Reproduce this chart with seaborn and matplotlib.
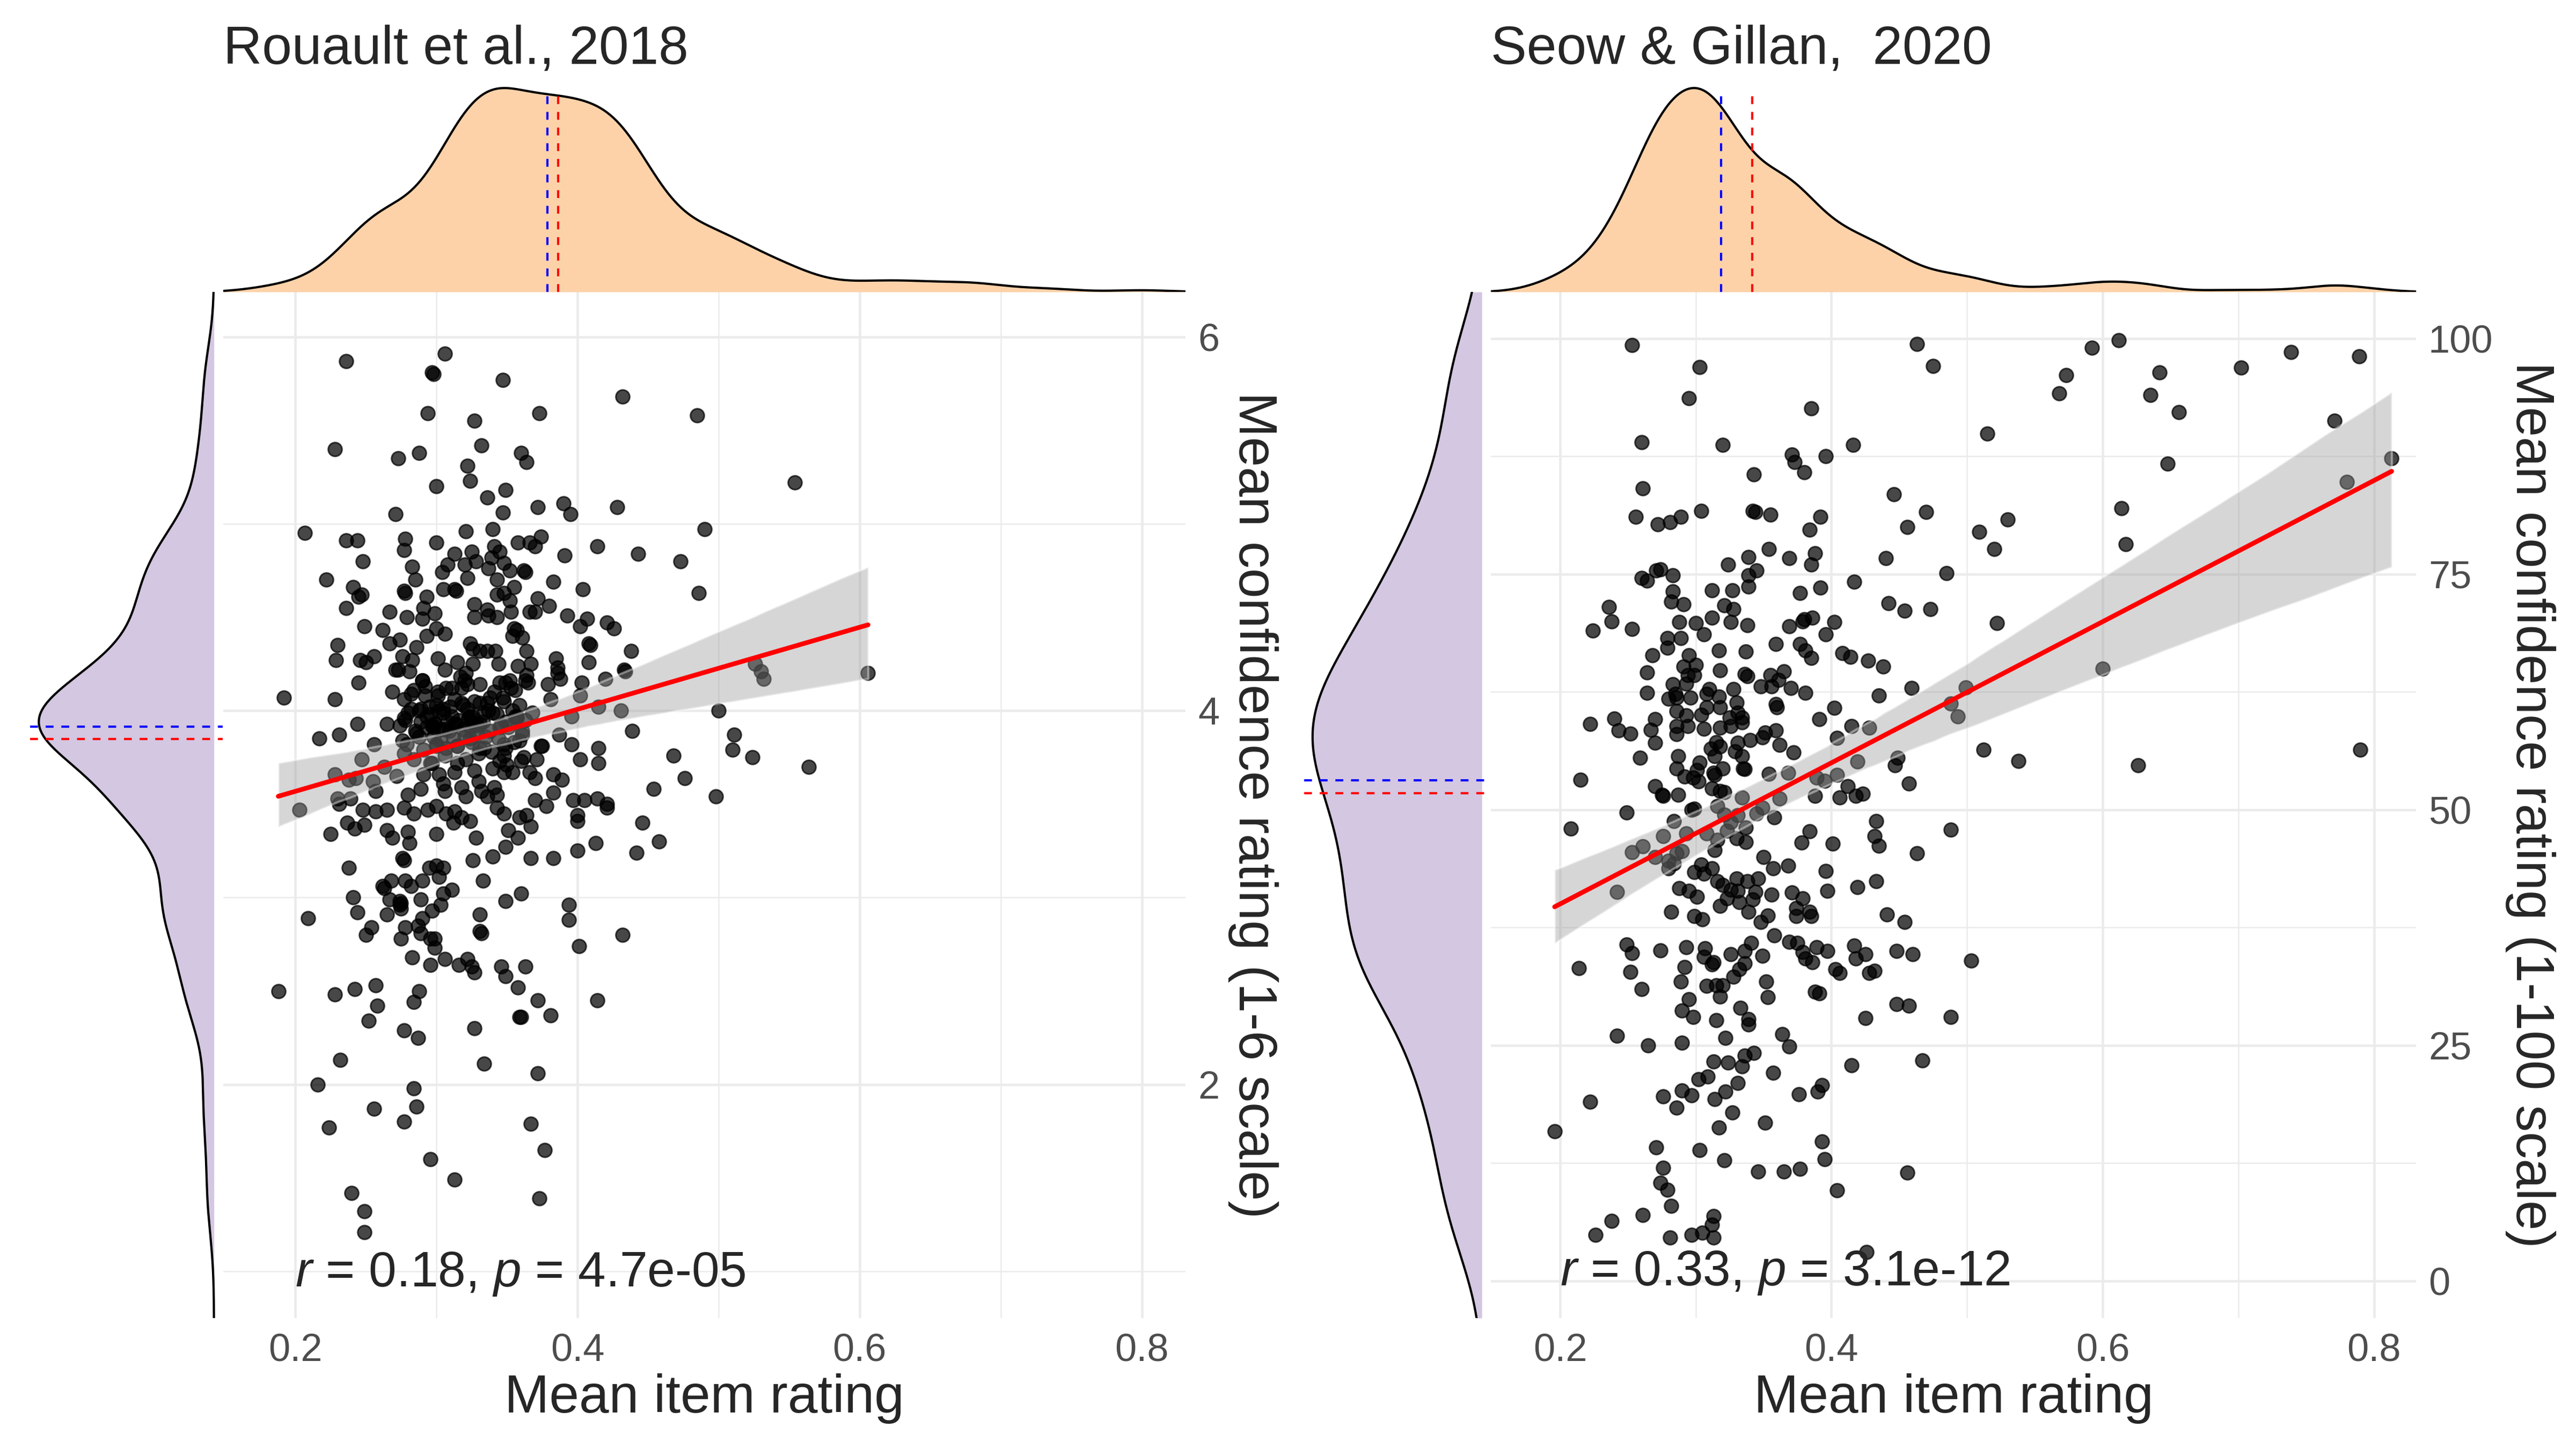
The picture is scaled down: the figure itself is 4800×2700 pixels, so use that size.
import numpy as np
import seaborn as sns
import matplotlib.pyplot as plt

# mean item rating vs mean confidence, one pair per participant
rouault_points = [
    (0.236,5.87),(0.306,5.91),(0.297,5.81),(0.298,5.80),(0.347,5.77),(0.432,5.68),(0.294,5.59),(0.373,5.59),(0.485,5.58),(0.327,5.55),
    (0.228,5.40),(0.273,5.35),(0.288,5.38),(0.332,5.42),(0.360,5.38),(0.364,5.33),(0.322,5.31),(0.324,5.23),(0.300,5.20),(0.349,5.18),
    (0.336,5.14),(0.554,5.22),(0.372,5.09),(0.390,5.11),(0.395,5.05),(0.347,5.06),(0.271,5.05),(0.428,5.09),(0.207,4.95),(0.490,4.97),
    (0.321,4.96),(0.340,4.97),(0.236,4.91),(0.244,4.91),(0.278,4.92),(0.277,4.86),(0.300,4.90),(0.248,4.80),(0.358,4.90),(0.366,4.90),
    (0.370,4.88),(0.374,4.93),(0.341,4.88),(0.345,4.85),(0.391,4.83),(0.414,4.88),(0.443,4.84),(0.473,4.80),(0.313,4.84),(0.325,4.85),
    (0.328,4.80),(0.320,4.78),(0.308,4.78),(0.304,4.74),(0.337,4.76),(0.339,4.82),(0.348,4.79),(0.352,4.75),(0.362,4.75),(0.363,4.74),
    (0.283,4.77),(0.222,4.70),(0.322,4.71),(0.285,4.70),(0.343,4.70),(0.355,4.66),(0.383,4.69),(0.404,4.65),(0.486,4.63),(0.241,4.66),
    (0.247,4.62),(0.245,4.61),(0.277,4.64),(0.278,4.63),(0.305,4.65),(0.313,4.65),(0.314,4.64),(0.343,4.62),(0.348,4.63),(0.352,4.59),
    (0.372,4.60),(0.293,4.61),(0.236,4.55),(0.267,4.53),(0.279,4.50),(0.290,4.49),(0.291,4.55),(0.299,4.52),(0.327,4.57),(0.327,4.50),
    (0.336,4.54),(0.337,4.51),(0.343,4.50),(0.353,4.53),(0.366,4.53),(0.370,4.53),(0.380,4.56),(0.393,4.51),(0.407,4.49),(0.421,4.47),
    (0.426,4.44),(0.402,4.45),(0.249,4.45),(0.262,4.43),(0.274,4.38),(0.267,4.36),(0.293,4.40),(0.300,4.44),(0.306,4.41),(0.355,4.44),
    (0.357,4.43),(0.354,4.40),(0.361,4.39),(0.408,4.36),(0.409,4.35),(0.438,4.32),(0.230,4.35),(0.229,4.27),(0.286,4.34),(0.324,4.36),
    (0.326,4.33),(0.331,4.32),(0.336,4.32),(0.342,4.32),(0.364,4.32),(0.246,4.27),(0.250,4.26),(0.256,4.29),(0.276,4.29),(0.283,4.27),
    (0.301,4.28),(0.315,4.26),(0.326,4.25),(0.306,4.22),(0.271,4.22),(0.273,4.22),(0.281,4.21),(0.344,4.25),(0.358,4.24),(0.367,4.25),
    (0.385,4.28),(0.386,4.23),(0.386,4.20),(0.388,4.17),(0.408,4.26),(0.433,4.22),(0.434,4.21),(0.420,4.17),(0.321,4.20),(0.320,4.16),
    (0.364,4.19),(0.363,4.16),(0.365,4.15),(0.345,4.15),(0.349,4.15),(0.352,4.16),(0.379,4.14),(0.403,4.15),(0.245,4.15),(0.290,4.16),
    (0.292,4.13),(0.311,4.12),(0.318,4.12),(0.322,4.14),(0.356,4.11),(0.526,4.25),(0.530,4.21),(0.532,4.17),(0.606,4.20),(0.192,4.07),
    (0.228,4.06),(0.269,4.10),(0.277,4.06),(0.284,4.11),(0.292,4.08),(0.301,4.10),(0.300,4.03),(0.305,4.01),(0.319,4.03),(0.338,4.07),
    (0.331,4.04),(0.348,4.05),(0.402,4.08),(0.381,4.06),(0.415,4.02),(0.431,4.00),(0.500,4.00),(0.282,4.01),(0.289,4.01),(0.324,3.97),
    (0.334,3.99),(0.340,3.99),(0.356,3.97),(0.368,3.99),(0.396,3.97),(0.244,3.93),(0.265,3.93),(0.274,3.92),(0.277,3.96),(0.293,3.97),
    (0.297,3.92),(0.298,3.91),(0.299,3.93),(0.313,3.93),(0.307,3.90),(0.325,3.94),(0.331,3.93),(0.345,3.91),(0.349,3.94),(0.357,3.96),
    (0.361,3.89),(0.285,3.89),(0.288,3.86),(0.439,3.89),(0.511,3.87),(0.217,3.85),(0.231,3.87),(0.256,3.82),(0.279,3.82),(0.300,3.82),
    (0.307,3.80),(0.315,3.81),(0.324,3.85),(0.331,3.80),(0.348,3.82),(0.359,3.84),(0.375,3.81),(0.387,3.87),(0.396,3.82),(0.415,3.80),
    (0.510,3.79),(0.524,3.75),(0.468,3.76),(0.564,3.70),(0.247,3.74),(0.277,3.77),(0.291,3.66),(0.296,3.72),(0.315,3.72),(0.313,3.67),
    (0.327,3.68),(0.340,3.69),(0.348,3.76),(0.350,3.71),(0.348,3.67),(0.354,3.67),(0.362,3.75),(0.360,3.73),(0.371,3.74),(0.366,3.67),
    (0.374,3.81),(0.402,3.74),(0.415,3.72),(0.228,3.66),(0.238,3.63),(0.243,3.64),(0.263,3.70),(0.255,3.62),(0.272,3.65),(0.257,3.57),
    (0.302,3.66),(0.305,3.61),(0.306,3.57),(0.318,3.59),(0.330,3.62),(0.332,3.57),(0.341,3.59),(0.343,3.55),(0.370,3.64),(0.383,3.66),
    (0.389,3.63),(0.383,3.56),(0.454,3.58),(0.476,3.64),(0.498,3.54),(0.289,3.58),(0.280,3.55),(0.230,3.53),(0.239,3.53),(0.321,3.54),
    (0.336,3.54),(0.370,3.52),(0.397,3.52),(0.405,3.52),(0.414,3.53),(0.421,3.50),
    (0.203,3.47),(0.231,3.50),(0.248,3.47),(0.257,3.46),(0.265,3.47),(0.277,3.48),(0.284,3.45),(0.294,3.47),(0.300,3.49),(0.307,3.45),
    (0.313,3.46),(0.318,3.43),(0.324,3.41),(0.343,3.48),(0.348,3.45),(0.359,3.43),(0.364,3.44),(0.367,3.38),(0.378,3.49),(0.400,3.44),
    (0.400,3.41),(0.421,3.48),(0.446,3.40),(0.458,3.30),(0.442,3.24),(0.413,3.29),(0.400,3.25),(0.383,3.21),(0.367,3.21),(0.349,3.27),
    (0.358,3.32),(0.351,3.36),(0.340,3.22),(0.326,3.20),(0.328,3.32),(0.312,3.40),(0.300,3.34),(0.280,3.35),(0.281,3.29),(0.269,3.32),
    (0.265,3.36),(0.249,3.39),(0.242,3.37),(0.237,3.40),(0.225,3.34),(0.276,3.21),(0.277,3.20),(0.238,3.16),(0.295,3.16),(0.300,3.17),
    (0.305,3.16),(0.302,3.11),(0.333,3.09),(0.311,3.04),(0.305,3.02),(0.290,3.09),(0.282,3.06),(0.278,3.09),(0.268,3.09),(0.262,3.06),
    (0.263,3.05),(0.241,3.00),(0.267,2.99),(0.274,2.98),(0.275,2.97),(0.274,2.96),(0.275,2.94),(0.289,2.99),(0.303,2.96),(0.297,2.93),
    (0.349,2.98),(0.360,3.02),(0.394,2.96),(0.394,2.88),(0.331,2.91),(0.331,2.82),(0.332,2.81),(0.209,2.89),(0.244,2.92),(0.265,2.91),
    (0.254,2.84),(0.250,2.80),(0.275,2.78),(0.278,2.84),(0.287,2.85),(0.290,2.89),(0.289,2.81),(0.296,2.78),(0.299,2.78),(0.299,2.73),
    (0.432,2.80),(0.401,2.74),(0.283,2.68),(0.296,2.64),(0.306,2.67),(0.316,2.64),(0.322,2.67),(0.325,2.63),(0.327,2.60),(0.346,2.63),
    (0.349,2.58),(0.363,2.63),(0.358,2.52),(0.372,2.45),(0.359,2.36),(0.360,2.36),(0.381,2.37),(0.414,2.45),(0.188,2.50),(0.228,2.48),
    (0.242,2.51),(0.257,2.53),(0.288,2.50),(0.284,2.44),(0.258,2.42),(0.252,2.34),(0.277,2.29),(0.287,2.25),(0.327,2.30),(0.334,2.11),
    (0.372,2.06),(0.232,2.13),(0.216,2.00),(0.284,1.98),(0.286,1.88),(0.256,1.87),(0.224,1.77),(0.277,1.80),(0.367,1.79),(0.377,1.65),
    (0.296,1.60),(0.313,1.49),(0.240,1.42),(0.373,1.39),(0.249,1.32),(0.249,1.21),
    # dense core where points overlap (estimated)
    (0.278,3.95),(0.286,3.88),(0.295,4.02),(0.303,3.84),(0.311,3.97),(0.319,3.90),(0.327,4.05),(0.335,3.86),(0.343,3.98),(0.351,3.91),
    (0.359,4.03),(0.282,4.09),(0.291,3.79),(0.299,3.93),(0.307,4.12),(0.315,3.81),(0.323,3.96),(0.331,4.14),(0.339,3.78),(0.347,4.07),
    (0.355,3.83),(0.363,3.95),(0.276,3.84),(0.288,4.00),(0.297,3.72),(0.305,3.99),(0.313,4.06),(0.321,3.74),(0.329,3.92),(0.337,4.00),
    (0.345,3.73),(0.353,4.12),(0.361,3.87),(0.284,3.74),(0.293,3.91),(0.301,4.08),(0.309,3.89),(0.317,4.18),(0.325,3.83),(0.333,3.94),
    (0.341,4.10),(0.349,3.80),(0.357,3.97),(0.280,3.99),(0.290,4.16),(0.298,3.86),(0.306,3.76),(0.314,3.93),(0.322,4.01),(0.330,3.77),
    (0.338,3.89),(0.346,3.92),(0.354,4.00),(0.289,3.94),(0.300,3.81),(0.310,4.02),(0.320,3.86),(0.326,3.97),(0.336,4.04),(0.344,3.85),
    (0.296,3.98),(0.304,3.90),(0.312,3.85),(0.318,4.04),(0.328,3.88),(0.334,3.80),(0.302,4.00),(0.316,3.95),(0.324,3.91),(0.308,3.94),
]

seow_points = [
    (0.253,99.3),(0.303,97.0),(0.295,93.7),(0.385,92.6),(0.463,99.4),(0.475,97.1),(0.260,89.0),(0.320,88.7),(0.416,88.7),(0.515,89.9),
    (0.371,87.7),(0.373,86.9),(0.380,85.8),(0.396,87.5),(0.343,85.6),(0.261,84.1),(0.446,83.5),(0.256,81.1),(0.272,80.3),(0.281,80.5),
    (0.289,81.1),(0.304,81.7),(0.342,81.7),(0.344,81.6),(0.355,81.3),(0.392,81.1),(0.384,79.7),(0.470,81.6),(0.456,80.0),(0.509,79.5),
    (0.530,80.8),(0.520,77.7),(0.354,77.7),(0.339,76.8),(0.369,76.7),(0.388,77.2),(0.385,76.0),(0.440,76.7),(0.485,75.1),(0.324,76.0),
    (0.345,75.4),(0.339,74.9),(0.339,73.7),(0.274,75.5),(0.271,75.4),(0.260,74.6),(0.264,74.3),(0.283,74.9),(0.283,73.2),(0.282,72.1),
    (0.291,71.8),(0.312,73.3),(0.327,73.3),(0.377,73.0),(0.392,73.6),(0.417,74.2),(0.442,71.9),(0.454,71.1),(0.473,71.3),(0.522,69.8),
    (0.236,71.5),(0.238,70.0),(0.224,69.0),(0.253,69.2),(0.321,71.7),(0.328,71.3),(0.288,69.9),(0.300,69.8),(0.312,70.4),(0.326,69.9),
    (0.338,69.6),(0.306,68.6),(0.279,68.2),(0.289,68.2),(0.279,67.2),(0.268,66.4),(0.317,66.9),(0.337,66.8),(0.359,67.6),(0.369,69.5),
    (0.379,70.0),(0.380,70.2),(0.386,70.4),(0.402,69.9),(0.396,68.6),(0.377,67.6),(0.381,66.9),(0.385,66.1),(0.408,66.6),(0.414,66.2),
    (0.427,65.8),(0.438,65.2),(0.295,66.4),(0.300,65.4),(0.291,65.2),(0.294,64.3),(0.299,64.3),(0.264,64.6),(0.318,64.8),(0.336,64.4),
    (0.338,64.2),(0.355,64.3),(0.365,64.7),(0.361,63.8),(0.356,63.1),(0.348,63.1),(0.370,62.9),(0.381,62.4),(0.435,62.1),(0.459,62.9),
    (0.283,63.3),(0.293,63.4),(0.264,62.4),(0.285,62.3),(0.286,61.9),(0.280,61.8),(0.296,61.9),(0.310,62.8),(0.308,62.3),(0.317,62.0),
    (0.328,62.8),(0.330,61.4),(0.318,60.9),(0.308,60.9),(0.286,60.5),(0.304,60.1),(0.293,60.0),(0.359,61.2),(0.360,60.9),(0.402,60.8),
    (0.488,61.3),(0.499,63.0),(0.493,59.9),(0.222,59.1),(0.240,59.7),(0.243,58.4),(0.252,58.1),(0.270,59.6),(0.267,58.5),(0.270,57.1),
    (0.286,58.9),(0.286,58.0),(0.294,58.9),(0.306,58.6),(0.318,58.7),(0.325,59.8),(0.326,58.9),(0.331,60.3),(0.334,59.8),(0.334,59.3),
    (0.391,59.6),(0.415,58.9),(0.359,58.4),(0.351,58.2),(0.349,57.7),(0.340,57.4),(0.331,57.1),(0.315,57.2),(0.318,56.7),(0.311,56.5),
    (0.314,55.7),(0.329,56.2),(0.334,55.7),(0.362,56.9),(0.372,56.1),(0.404,57.6),(0.428,58.7),(0.449,55.5),(0.447,54.7),(0.512,56.4),
    (0.538,55.2),(0.259,55.5),(0.287,55.7),(0.286,54.4),(0.303,55.0),(0.301,54.2),(0.320,54.4),(0.335,54.4),(0.336,54.3),(0.313,53.9),
    (0.314,53.7),(0.292,53.5),(0.298,53.4),(0.302,53.0),(0.354,53.8),(0.368,53.9),(0.389,53.4),(0.395,53.1),(0.404,53.7),(0.419,55.1),
    (0.457,52.8),(0.215,53.2),(0.270,52.5),(0.275,51.6),(0.276,51.5),(0.287,51.6),(0.312,52.3),(0.318,52.0),(0.321,51.9),(0.334,51.3),
    (0.388,51.5),(0.412,52.5),(0.406,51.3),(0.418,51.5),(0.423,51.7),(0.362,51.2),
    (0.208,48.0),(0.249,49.7),(0.284,48.8),(0.297,50.0),(0.299,50.1),(0.316,50.4),(0.321,49.5),(0.326,48.7),(0.331,49.4),(0.337,48.1),
    (0.345,49.6),(0.349,50.2),(0.358,49.2),(0.293,47.5),(0.308,47.5),(0.323,47.8),(0.330,47.0),(0.337,46.6),(0.314,45.7),(0.316,46.8),
    (0.276,47.2),(0.261,46.1),(0.253,45.5),(0.270,45.0),(0.280,44.6),(0.286,45.4),(0.290,45.6),(0.280,43.8),(0.284,44.3),(0.242,41.3),
    (0.384,47.7),(0.378,46.5),(0.401,46.4),(0.433,48.8),(0.432,47.2),(0.435,46.2),(0.488,47.9),(0.463,45.4),(0.350,45.0),(0.357,43.8),
    (0.368,44.1),(0.396,43.5),(0.304,44.2),(0.312,43.8),(0.299,43.4),(0.306,43.2),(0.288,41.7),(0.295,41.4),(0.301,40.8),(0.316,42.4),
    (0.320,42.0),(0.330,42.7),(0.338,42.4),(0.346,42.7),(0.326,41.5),(0.331,41.4),(0.344,41.3),(0.318,39.8),(0.323,40.6),(0.332,40.2),
    (0.342,40.5),(0.356,41.0),(0.371,41.2),(0.379,40.6),(0.419,41.8),(0.433,42.4),(0.397,41.4),(0.282,39.2),(0.299,38.7),(0.305,38.4),
    (0.339,39.2),(0.353,38.8),(0.348,38.1),(0.374,39.6),(0.374,38.7),(0.384,39.2),(0.385,38.7),(0.441,38.9),(0.454,38.1),(0.249,35.7),
    (0.253,34.8),(0.274,35.1),(0.293,35.4),(0.307,35.3),(0.306,34.4),(0.313,33.8),(0.312,33.6),(0.326,34.7),(0.336,35.0),(0.341,35.9),
    (0.349,34.5),(0.358,36.7),(0.369,36.0),(0.375,35.9),(0.379,34.9),(0.381,34.2),(0.386,33.8),(0.389,35.4),(0.397,35.0),(0.417,35.6),
    (0.418,34.2),(0.425,34.7),(0.448,35.0),(0.460,34.7),(0.503,34.0),(0.214,33.2),(0.252,32.8),(0.292,33.3),(0.289,31.8),(0.260,31.0),
    (0.308,31.3),(0.315,31.4),(0.320,31.4),(0.318,30.2),(0.328,32.3),(0.332,33.1),(0.336,33.7),(0.352,31.8),(0.353,30.1),(0.403,33.1),
    (0.406,32.7),(0.428,32.7),(0.432,32.9),(0.388,30.7),(0.391,30.5),(0.448,29.4),(0.457,29.2),(0.488,28.0),(0.425,27.9),(0.295,29.9),
    (0.290,28.7),(0.298,28.0),(0.315,27.7),(0.333,29.0),(0.339,27.8),(0.339,27.2),(0.242,26.0),(0.265,25.0),(0.290,25.3),(0.322,25.8),
    (0.364,26.2),(0.369,24.9),(0.313,23.3),(0.324,23.2),(0.334,22.8),(0.336,23.9),(0.343,24.2),(0.357,22.1),(0.415,22.9),(0.467,23.4),
    (0.302,21.4),(0.309,21.7),(0.331,21.0),(0.290,20.2),(0.297,19.7),(0.276,19.6),(0.286,18.4),(0.314,19.3),(0.322,20.1),(0.327,17.9),
    (0.376,19.8),(0.390,20.1),(0.393,20.8),(0.222,19.0),(0.196,15.9),(0.317,16.3),(0.351,16.8),(0.393,14.8),(0.395,12.9),(0.271,14.2),
    (0.303,13.9),(0.321,12.8),(0.346,11.6),(0.365,11.6),(0.377,11.9),(0.456,11.5),(0.404,9.6),(0.276,12.0),(0.274,10.4),(0.279,9.7),
    (0.282,8.0),(0.261,7.0),(0.238,6.4),(0.226,4.9),(0.281,4.6),(0.297,4.9),(0.305,5.1),(0.313,6.9),(0.312,6.0),(0.313,4.6),(0.426,3.1),
    (0.568,94.2),(0.573,96.1),(0.592,99.0),(0.612,99.8),(0.635,94.0),(0.642,96.4),(0.656,92.2),(0.702,96.9),(0.739,98.6),(0.789,98.1),
    (0.771,91.3),(0.648,86.7),(0.614,82.0),(0.617,78.2),(0.813,87.3),(0.780,84.8),(0.600,65.0),(0.626,54.7),(0.790,56.4),
]

rouault_item = [p[0] for p in rouault_points]
rouault_conf = [p[1] for p in rouault_points]
seow_item = [p[0] for p in seow_points]
seow_conf = [p[1] for p in seow_points]

titles = ['Rouault et al., 2018', 'Seow & Gillan,  2020']
ylabels = ['Mean confidence rating (1-6 scale)', 'Mean confidence rating (1-100 scale)']
stat_labels = [r'$r$ = 0.18, $p$ = 4.7e-05', r'$r$ = 0.33, $p$ = 3.1e-12']

PEACH = '#FDD2A9'
LILAC = '#D4C7E1'
GRID = '#EBEBEB'
W, H = 4800, 2700

sns.set_theme(style='white')
plt.rcParams['font.family'] = ['Liberation Sans', 'DejaVu Sans']
plt.rcParams['mathtext.fontset'] = 'custom'
plt.rcParams['mathtext.rm'] = 'Liberation Sans'
plt.rcParams['mathtext.it'] = 'Liberation Sans:italic'


def rect(x0, y0, x1, y1):
    # pixel box (top-left origin) -> figure fraction
    return [x0 / W, 1 - y1 / H, (x1 - x0) / W, (y1 - y0) / H]


def r_bw(v):
    # R's bw.nrd0 written as a scipy bandwidth factor
    v = np.asarray(v)
    sd = v.std(ddof=1)
    iqr = np.subtract(*np.percentile(v, [75, 25]))
    return 0.9 * min(sd, iqr / 1.34) / sd * len(v) ** -0.2


def panel(fig, px, x, y, xlim, ylim, yticks, yminor, title, ylabel, stat, stat_y, ylab_x):
    main_x0, main_x1, side_x0 = px
    ax = fig.add_axes(rect(main_x0, 544, main_x1, 2456))
    top = fig.add_axes(rect(main_x0, 150, main_x1, 544))
    side = fig.add_axes(rect(side_x0, 544, main_x0 - 1, 2456))

    # scatter + fit
    sns.scatterplot(x=x, y=y, ax=ax, color='black', alpha=0.72, s=38,
                    edgecolor='black', linewidth=0.7, zorder=2)
    sns.regplot(x=x, y=y, ax=ax, scatter=False, ci=95, seed=1, color='black',
                line_kws=dict(color='red', lw=2.1, zorder=4))
    band = ax.collections[-1]
    band.set_facecolor('#999999')
    band.set_alpha(0.4)
    band.set_zorder(3)

    ax.set_xlim(xlim)
    ax.set_ylim(ylim)
    ax.set_xticks([0.2, 0.4, 0.6, 0.8])
    ax.set_xticks([0.3, 0.5, 0.7], minor=True)
    ax.set_yticks(yticks)
    ax.set_yticks(yminor, minor=True)
    ax.grid(which='major', color=GRID, lw=1.1)
    ax.grid(which='minor', color=GRID, lw=0.6)
    ax.set_axisbelow(True)
    for s in ax.spines.values():
        s.set_visible(False)
    ax.yaxis.tick_right()
    ax.tick_params(axis='both', which='both', length=0, labelsize=17.3, labelcolor='#4D4D4D')
    ax.tick_params(axis='x', pad=6.5)
    ax.tick_params(axis='y', pad=5.5)

    ax.set_xlabel('Mean item rating', fontsize=24)
    ax.xaxis.set_label_coords(0.5, -0.054)
    ax.set_ylabel(ylabel, fontsize=24)
    ax.yaxis.set_label_position('right')
    lab = ax.yaxis.label
    lab.set_rotation(270)
    lab.set_rotation_mode('default')
    lab.set_va('center')
    lab.set_ha('center')
    ax.yaxis.set_label_coords(ylab_x, 0.5)

    ax.text(0.2, stat_y, stat, fontsize=22.3, ha='left', va='baseline', zorder=5)

    # top marginal: its own x scale, data range plus 5 %
    lo, hi = min(x), max(x)
    mlim = (lo - 0.05 * (hi - lo), hi + 0.05 * (hi - lo))
    bw = r_bw(x)
    sns.kdeplot(x=x, ax=top, fill=True, color=PEACH, alpha=1, linewidth=0,
                bw_method=bw, cut=20, clip=mlim, gridsize=600)
    sns.kdeplot(x=x, ax=top, color='black', lw=1.0, bw_method=bw, cut=20, clip=mlim, gridsize=600)
    peak = top.lines[0].get_ydata().max()
    top.set_xlim(mlim)
    top.set_ylim(0, peak * 1.037)
    top.axvline(np.median(x), ymax=0.944, color='blue', lw=1.0, ls=(0, (3.5, 3.5)))
    top.axvline(np.mean(x), ymax=0.944, color='red', lw=1.0, ls=(0, (3.5, 3.5)))
    top.axis('off')
    top.set_title(title, loc='left', fontsize=24, pad=7.5)

    # side marginal density of confidence
    bw = r_bw(y)
    sns.kdeplot(y=y, ax=side, fill=True, color=LILAC, alpha=1, linewidth=0,
                bw_method=bw, cut=20, clip=ylim, gridsize=600)
    sns.kdeplot(y=y, ax=side, color='black', lw=1.0, bw_method=bw, cut=20, clip=ylim, gridsize=600)
    speak = side.lines[0].get_xdata().max()
    side.set_xlim(speak * 1.05, -speak * 0.05)
    side.set_ylim(ylim)
    side.axhline(np.median(y), color='blue', lw=1.0, ls=(0, (3.5, 3.5)))
    side.axhline(np.mean(y), color='red', lw=1.0, ls=(0, (3.5, 3.5)))
    side.axis('off')


fig = plt.figure(figsize=(16, 9), dpi=300)
fig.patch.set_facecolor('white')

panel(fig, (416, 2209, 56), rouault_item, rouault_conf, (0.149, 0.831), (0.75, 6.24),
      [2, 4, 6], [1, 3, 5], titles[0], ylabels[0], stat_labels[0], 0.92, 1.070)
panel(fig, (2778, 4502, 2430), seow_item, seow_conf, (0.149, 0.831), (-3.93, 104.95),
      [0, 25, 50, 75, 100], [12.5, 37.5, 62.5, 87.5], titles[1], ylabels[1], stat_labels[1], -0.45, 1.1235)

fig.savefig('out.png', dpi=300, facecolor='white')
